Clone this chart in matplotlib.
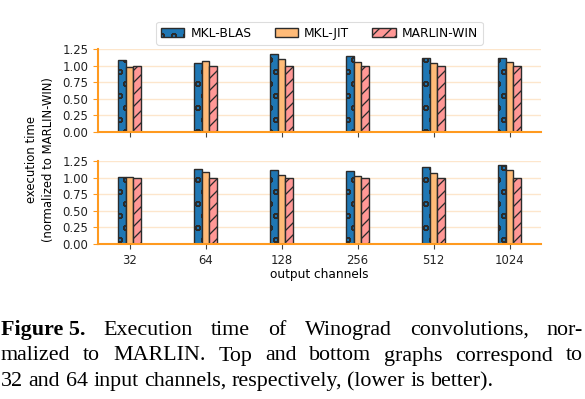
import numpy as np
import matplotlib.pyplot as plt

channels = ['32', '64', '128', '256', '512', '1024']
series = ['MKL-BLAS', 'MKL-JIT', 'MARLIN-WIN']

# top graph: 32 input channels
top_blas = [1.085, 1.035, 1.18, 1.145, 1.12, 1.11]
top_jit = [0.98, 1.065, 1.095, 1.055, 1.04, 1.06]
top_marlin = [1.0, 1.0, 1.0, 1.0, 1.0, 1.0]

# bottom graph: 64 input channels
bot_blas = [1.005, 1.135, 1.115, 1.105, 1.165, 1.185]
bot_jit = [1.005, 1.09, 1.045, 1.02, 1.075, 1.11]
bot_marlin = [1.0, 1.0, 1.0, 1.0, 1.0, 1.0]

yticks = [0.0, 0.25, 0.5, 0.75, 1.0, 1.25]

colors = ['#1f77b4', '#ffbb78', '#ff9896']
hatches = ['o', '', '//']
spine_col = '#ff9a1f'
grid_col = '#fde6cc'

# drawn at 72 dpi so the hatch cell matches the original figure;
# S turns the sizes I tuned at 100 dpi into points at 72 dpi
dpi = 72
S = 100 / 72
plt.rcParams['hatch.linewidth'] = 1.3
tick_fs = 8.4 * S
lab_fs = 8.7 * S
plt.rcParams['font.size'] = lab_fs

fig = plt.figure(figsize=(585 / dpi, 399 / dpi), dpi=dpi)
ax_top = fig.add_axes([0.1675, 0.669, 0.7575, 0.208])
ax_bot = fig.add_axes([0.1675, 0.3885, 0.7575, 0.208])

x = np.arange(len(channels))
w = 0.1


def draw(ax, data):
    for i, vals in enumerate(data):
        ax.bar(x + (i - 1) * w, vals, w, color=colors[i], hatch=hatches[i],
               edgecolor='#2b2b2b', linewidth=1.0 * S, label=series[i], zorder=3)
    ax.set_ylim(0, 1.25)
    ax.set_yticks(yticks)
    ax.set_yticklabels(['%.2f' % t for t in yticks])
    ax.set_xticks(x)
    for side in ['top', 'right']:
        ax.spines[side].set_visible(False)
    for side in ['left', 'bottom']:
        ax.spines[side].set_color(spine_col)
        ax.spines[side].set_linewidth(1.5 * S)
        ax.spines[side].set_zorder(4)
    ax.tick_params(axis='y', color=spine_col, labelcolor='#222222', length=3.5 * S,
                   width=0.8 * S, pad=3.5 * S, labelsize=tick_fs)
    ax.tick_params(axis='x', color='#444444', labelcolor='#222222', length=3.5 * S,
                   width=0.8 * S, pad=3.5 * S, labelsize=tick_fs)
    ax.yaxis.grid(True, color=grid_col, linewidth=1.0 * S, zorder=0)
    ax.set_axisbelow(True)


draw(ax_top, [top_blas, top_jit, top_marlin])
draw(ax_bot, [bot_blas, bot_jit, bot_marlin])

ax_top.set_xticklabels([])
ax_bot.set_xticklabels(channels)
ax_bot.set_xlabel('output channels', labelpad=1 * S, fontsize=lab_fs)

leg = ax_top.legend(loc='lower center', bbox_to_anchor=(0.5, 1.0), ncol=3,
                    borderaxespad=0.35, handlelength=1.9, handletextpad=0.5,
                    columnspacing=1.9, borderpad=0.4, fontsize=8.8 * S,
                    framealpha=1.0, edgecolor='#dddddd')
leg.get_frame().set_linewidth(0.8 * S)

fig.text(0.068, 0.599, 'execution time\n(normalized to MARLIN-WIN)',
         rotation=90, ha='center', va='center', fontsize=8.4 * S, linespacing=1.45)

# caption below the chart, justified like the paper
cap_font = 'Liberation Serif'
cap_size = 15.8 * S
lines = [("Figure 5.", "Execution time of Winograd convolutions, nor-", True),
         (None, "malized to MARLIN. Top and bottom graphs correspond to", True),
         (None, "32 and 64 input channels, respectively, (lower is better).", False)]
baseline_y = [335, 360.5, 386]
left_px = 1
right_px = 583

fig.canvas.draw()
r = fig.canvas.get_renderer()


def text_w(s, bold=False):
    t = fig.text(0, 0, s, fontsize=cap_size, family=cap_font,
                 weight='bold' if bold else 'normal', alpha=0)
    bb = t.get_window_extent(renderer=r)
    t.remove()
    return bb.width


for (bold_part, rest, justify), ypx in zip(lines, baseline_y):
    y = 1 - ypx / 399
    words = []
    if bold_part:
        words.append((bold_part, True))
    words += [(wd, False) for wd in rest.split(' ')]
    widths = [text_w(wd, b) for wd, b in words]
    if justify:
        gap = (right_px - left_px - sum(widths)) / (len(words) - 1)
    else:
        gap = text_w('a b') - text_w('ab')
    xp = left_px
    for (wd, b), wdt in zip(words, widths):
        fig.text(xp / 585, y, wd, fontsize=cap_size, family=cap_font,
                 weight='bold' if b else 'normal', va='baseline', ha='left')
        xp += wdt + gap

fig.savefig('out.png', dpi=dpi)
